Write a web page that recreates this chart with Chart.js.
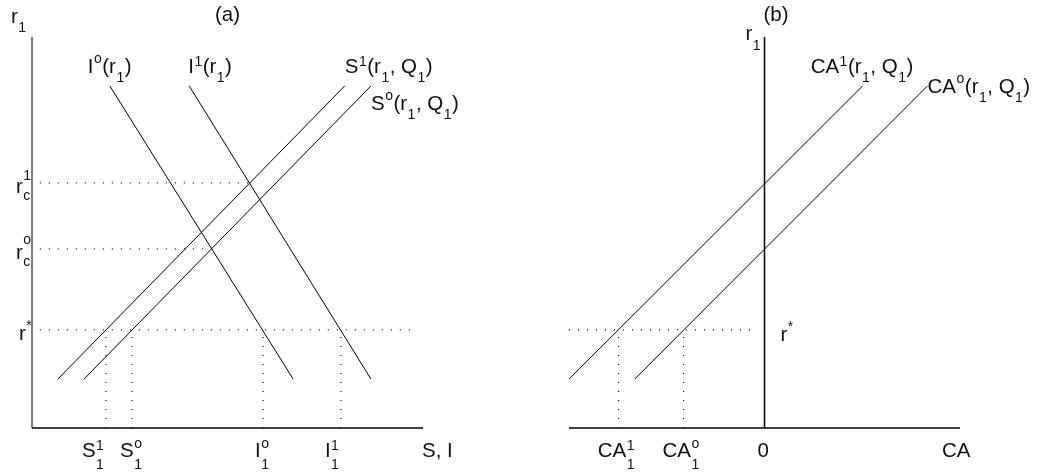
<!DOCTYPE html>
<html><head><meta charset="utf-8">
<script src="https://cdn.jsdelivr.net/npm/chart.js@4.4.1/dist/chart.umd.min.js"></script>
<style>
html,body{margin:0;padding:0;background:#fff;overflow:hidden;width:1039px;height:474px}
#pa{position:absolute;left:0;top:0}
#pb{position:absolute;left:520px;top:0}
</style></head><body>
<canvas id="pa" width="520" height="474" style="width:520px;height:474px"></canvas>
<canvas id="pb" width="519" height="474" style="width:519px;height:474px"></canvas>
<script>
// ===== Panel (a): saving and investment, S, I (x) vs r1 (y), axes 0..10 =====
const rStar = 2.51;          // world interest rate r*
const rc0 = 4.58;            // closed-economy rate, initial
const rc1 = 6.27;            // closed-economy rate, after shock
const I0 = [[1.99, 8.75], [6.68, 1.25]];
const I1 = [[4.02, 8.75], [8.67, 1.25]];
const S1 = [[0.66, 1.25], [8.00, 8.75]];
const S0 = [[1.33, 1.25], [8.67, 8.75]];
const S1_1 = 1.89, S0_1 = 2.56, I0_1 = 5.91, I1_1 = 7.90;   // quantities at r*
const eq1X = 5.55, eq0X = 4.50;                              // ends of r_c guides
const guideStartA = 0.2, rStarEndA = 9.85;

// ===== Panel (b): current account CA (x, -5..5) vs r1 (y, 0..10) =====
const CA1 = [[-5.00, 1.25], [2.51, 8.75]];
const CA0 = [[-3.32, 1.25], [4.17, 8.75]];
const CA1_1 = -3.73, CA0_1 = -2.07;
const rStarEndB = -0.18;

// ===== styling =====
const FONT = '"Liberation Sans", Arial, Helvetica, sans-serif';
const MAIN = '20.5px ' + FONT;
const SMALL = '14px ' + FONT;
const TXT = '#111';

const pts = arr => arr.map(p => ({x: p[0], y: p[1]}));
function curve(arr) {
  return {data: pts(arr), showLine: true, borderColor: '#000', borderWidth: 1, pointRadius: 0, fill: false, clip: false, tension: 0};
}
function axis(arr, w) {
  return {data: pts(arr), showLine: true, borderColor: '#000', borderWidth: w, pointRadius: 0, fill: false, clip: false};
}
function guide(arr) {
  return {data: pts(arr), showLine: true, borderColor: '#111', borderWidth: 1.2, borderDash: [1, 8], pointRadius: 0, fill: false, clip: false};
}

function drawRich(ctx, x, y, parts) {
  let cx = x;
  ctx.textBaseline = 'alphabetic';
  ctx.textAlign = 'left';
  ctx.fillStyle = TXT;
  for (const p of parts) {
    if (typeof p === 'string') {
      ctx.font = MAIN; ctx.fillText(p, cx, y); cx += ctx.measureText(p).width;
    } else {
      ctx.font = SMALL;
      let w = 0;
      const stacked = p.sup && p.sub;
      if (p.sup) {
        let off = p.supDy !== undefined ? p.supDy : (p.sup === 'o' ? -9.5 : (p.sup === '*' ? -10 : -7));
        ctx.fillText(p.sup, cx + 0.5, y + off);
        w = Math.max(w, ctx.measureText(p.sup).width);
      }
      if (p.sub) {
        let off = p.subDy !== undefined ? p.subDy : (stacked ? 12 : 9);
        ctx.fillText(p.sub, cx + 0.5, y + off);
        w = Math.max(w, ctx.measureText(p.sub).width);
      }
      cx += w + 1;
    }
  }
}

const labelPlugin = {
  id: 'labels',
  afterDraw(chart) {
    const ctx = chart.ctx, xs = chart.scales.x, ys = chart.scales.y;
    ctx.save();
    for (const L of chart.options.plugins.labels.items) {
      drawRich(ctx, xs.getPixelForValue(L.x) + L.dx, ys.getPixelForValue(L.y) + L.dy, L.parts);
    }
    ctx.restore();
  }
};

function makeChart(id, datasets, xmin, xmax, padding, labels) {
  return new Chart(document.getElementById(id), {
    type: 'scatter',
    data: {datasets},
    options: {
      responsive: false, animation: false, devicePixelRatio: 1,
      layout: {padding},
      scales: {
        x: {type: 'linear', min: xmin, max: xmax, display: false},
        y: {type: 'linear', min: 0, max: 10, display: false}
      },
      plugins: {legend: {display: false}, tooltip: {enabled: false}, labels: {items: labels}},
      events: []
    },
    plugins: [labelPlugin]
  });
}

// Panel (a)
makeChart('pa', [
  axis([[0, 0], [0, 10]], 1),
  axis([[0, 0], [10, 0]], 1.5),
  guide([[guideStartA, rc1], [eq1X, rc1]]),
  guide([[guideStartA, rc0], [eq0X, rc0]]),
  guide([[guideStartA, rStar], [rStarEndA, rStar]]),
  guide([[S1_1, 0], [S1_1, rStar]]),
  guide([[S0_1, 0], [S0_1, rStar]]),
  guide([[I0_1, 0], [I0_1, rStar]]),
  guide([[I1_1, 0], [I1_1, rStar]]),
  curve(I0), curve(I1), curve(S1), curve(S0)
], 0, 10, {left: 32, right: 97, top: 37, bottom: 46}, [
  {x: 0, y: 10, dx: -21, dy: -14, parts: ['r', {sub: '1'}]},
  {x: 0, y: 10, dx: 183, dy: -16, parts: ['(a)']},
  {x: I0[0][0], y: I0[0][1], dx: -22, dy: -13, parts: ['I', {sup: 'o'}, '(r', {sub: '1'}, ')']},
  {x: I1[0][0], y: I1[0][1], dx: -1, dy: -13, parts: ['I', {sup: '1'}, '(r', {sub: '1'}, ')']},
  {x: S1[1][0], y: S1[1][1], dx: 0, dy: -13, parts: ['S', {sup: '1'}, '(r', {sub: '1'}, ', Q', {sub: '1'}, ')']},
  {x: S0[1][0], y: S0[1][1], dx: 0, dy: 24, parts: ['S', {sup: 'o'}, '(r', {sub: '1'}, ', Q', {sub: '1'}, ')']},
  {x: 0, y: rc1, dx: -16, dy: 10, parts: ['r', {sup: '1', sub: 'c', supDy: -13, subDy: 7}]},
  {x: 0, y: rc0, dx: -16, dy: 10, parts: ['r', {sup: 'o', sub: 'c', supDy: -15, subDy: 7}]},
  {x: 0, y: rStar, dx: -13, dy: 10, parts: ['r', {sup: '*'}]},
  {x: S1_1, y: 0, dx: -24, dy: 29, parts: ['S', {sup: '1', sub: '1'}]},
  {x: S0_1, y: 0, dx: -12, dy: 29, parts: ['S', {sup: 'o', sub: '1'}]},
  {x: I0_1, y: 0, dx: -8, dy: 29, parts: ['I', {sup: 'o', sub: '1'}]},
  {x: I1_1, y: 0, dx: -16, dy: 29, parts: ['I', {sup: '1', sub: '1'}]},
  {x: 10, y: 0, dx: -1, dy: 29, parts: ['S, I']}
]);

// Panel (b)
makeChart('pb', [
  axis([[0, 0], [0, 10]], 1.5),
  axis([[-5, 0], [5, 0]], 1.5),
  guide([[-5, rStar], [rStarEndB, rStar]]),
  guide([[CA1_1, 0], [CA1_1, rStar]]),
  guide([[CA0_1, 0], [CA0_1, rStar]]),
  curve(CA1), curve(CA0)
], -5, 5, {left: 49, right: 79, top: 37, bottom: 46}, [
  {x: 0, y: 10, dx: -19, dy: 3, parts: ['r', {sub: '1', subDy: 10}]},
  {x: 0, y: 10, dx: -1, dy: -16, parts: ['(b)']},
  {x: CA1[1][0], y: CA1[1][1], dx: -52, dy: -13, parts: ['CA', {sup: '1'}, '(r', {sub: '1'}, ', Q', {sub: '1'}, ')']},
  {x: CA0[1][0], y: CA0[1][1], dx: 0, dy: 7, parts: ['CA', {sup: 'o'}, '(r', {sub: '1'}, ', Q', {sub: '1'}, ')']},
  {x: 0, y: rStar, dx: 16, dy: 11, parts: ['r', {sup: '*'}]},
  {x: CA1_1, y: 0, dx: -21, dy: 29, parts: ['CA', {sup: '1', sub: '1'}]},
  {x: CA0_1, y: 0, dx: -21, dy: 29, parts: ['CA', {sup: 'o', sub: '1'}]},
  {x: 0, y: 0, dx: -7, dy: 29, parts: ['0']},
  {x: 5, y: 0, dx: -18, dy: 29, parts: ['CA']}
]);
</script>
</body></html>
